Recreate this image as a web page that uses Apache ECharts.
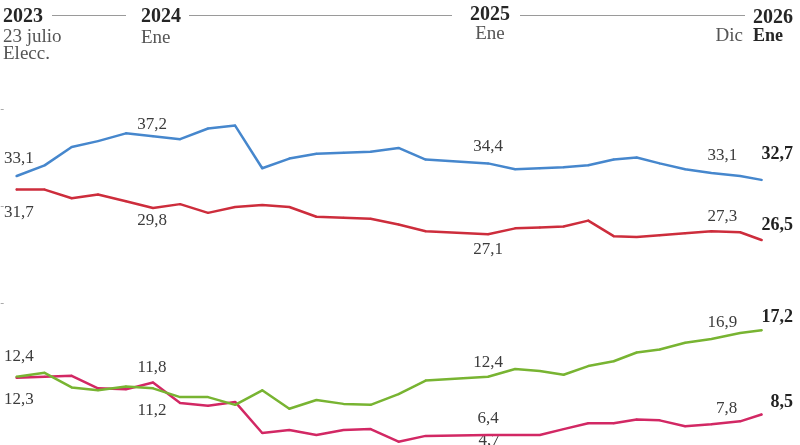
<!DOCTYPE html>
<html>
<head>
<meta charset="utf-8">
<script src="https://cdn.jsdelivr.net/npm/echarts@6/dist/echarts.min.js"></script>
<style>
html,body{margin:0;padding:0;background:#fff;}
#chart{width:800px;height:445px;}
</style>
</head>
<body>
<div id="chart"></div>
<script>
// Survey dates
const dates = ['2023-07-23','2023-08-26','2023-09-28','2023-10-30','2023-12-03','2024-01-05','2024-02-07','2024-03-12','2024-04-14','2024-05-17','2024-06-19','2024-07-22','2024-08-24','2024-09-26','2024-10-30','2024-12-02','2025-02-16','2025-03-21','2025-04-20','2025-05-19','2025-06-18','2025-07-19','2025-08-16','2025-09-13','2025-10-14','2025-11-15','2025-12-20','2026-01-15'];
const blue    = [33.1,34.2,36.1,36.7,37.5,37.2,36.9,38.0,38.3,33.9,34.9,35.4,35.5,35.6,36.0,34.8,34.4,33.8,33.9,34.0,34.2,34.8,35.0,34.4,33.8,33.4,33.1,32.7];
const red     = [31.7,31.7,30.8,31.2,30.5,29.8,30.2,29.3,29.9,30.1,29.9,28.9,28.8,28.7,28.1,27.4,27.1,27.7,27.8,27.9,28.5,26.9,26.8,27.0,27.2,27.4,27.3,26.5];
const green   = [12.4,12.8,11.3,11.0,11.4,11.2,10.3,10.3,9.5,11.0,9.1,10.0,9.6,9.5,10.6,12.0,12.4,13.2,13.0,12.6,13.5,14.0,14.9,15.2,15.9,16.3,16.9,17.2];
const magenta = [12.3,12.4,12.5,11.2,11.1,11.8,9.7,9.4,9.8,6.6,6.9,6.4,6.9,7.0,5.7,6.3,6.4,6.4,6.4,7.0,7.6,7.6,8.0,7.9,7.3,7.5,7.8,8.5];
const yTicks = [20,30,40];
const headerYears = ['2023','2024','2025','2026'];
const headerSub = ['23 julio','Ene','Ene','Dic','Ene'];
const offLabel = '4,7';

const FONT = "'Liberation Serif', 'Times New Roman', serif";
const fmt = v => v.toFixed(1).replace('.', ',');

// label placement per series: index -> [align, dx, dy, bold]
function build(values, specs) {
  return values.map((v, i) => {
    const item = { value: [dates[i], v] };
    const s = specs[i];
    if (s) {
      item.label = {
        show: true,
        position: 'inside',
        formatter: fmt(v),
        align: s[0],
        verticalAlign: 'middle',
        offset: [s[1], s[2]],
        fontFamily: FONT,
        fontSize: s[3] ? 18 : 17,
        fontWeight: s[3] ? 'bold' : 'normal',
        color: s[3] ? '#222' : '#3c3c3c'
      };
    }
    return item;
  });
}

const last = dates.length - 1;
const mk = (a, b, c, d, e) => { const o = {}; o[0] = a; o[5] = b; o[16] = c; o[last - 1] = d; o[last] = e; return o; };

const series = [
  { name: 'blue', color: '#4687CD', vals: blue,
    specs: mk(['left',-12.7,-17], ['center',-1,-12], ['center',0,-16.5], ['right',-3,-20], ['right',31.5,-25.5,true]) },
  { name: 'red', color: '#CD2D3C', vals: red,
    specs: mk(['left',-12.7,23], ['center',-1,12.5], ['center',0,15], ['right',-3,-16], ['right',31.5,-15,true]) },
  { name: 'magenta', color: '#D22864', vals: magenta,
    specs: mk(['left',-12.7,22], ['center',-1,-15], ['center',0,-16], ['right',-3,-13], ['right',31.5,-12,true]) },
  { name: 'green', color: '#78B432', vals: green,
    specs: mk(['left',-12.7,-20], ['center',-1,22], ['center',0,-14], ['right',-3,-11], ['right',31.5,-12.5,true]) }
].map(s => ({
  type: 'line',
  name: s.name,
  data: build(s.vals, s.specs),
  symbol: 'circle',
  symbolSize: 2,
  showSymbol: true,
  itemStyle: { color: s.color },
  lineStyle: { color: s.color, width: 2.5, cap: 'round', join: 'round' },
  emphasis: { disabled: true },
  z: 3
}));

const gray = '#555';
const dark = '#262626';
const txt = (text, x, y, align, size, bold, fill) => ({
  type: 'text', x: x, y: y, silent: true,
  style: { text: text, fill: fill, font: (bold ? 'bold ' : '') + size + 'px ' + FONT, align: align, verticalAlign: 'middle' }
});
const hline = (x1, x2, y) => ({
  type: 'line', silent: true,
  shape: { x1: x1, y1: y, x2: x2, y2: y },
  style: { stroke: '#9a9a9a', lineWidth: 1 }
});

const graphic = [
  txt(headerYears[0], 3, 17, 'left', 20, true, dark),
  hline(52, 126, 15.5),
  txt(headerYears[1], 141, 17, 'left', 20, true, dark),
  hline(189, 452, 15.5),
  txt(headerYears[2], 490, 14.5, 'center', 20, true, dark),
  hline(520, 745, 15.5),
  txt(headerYears[3], 753, 17.5, 'left', 20, true, dark),
  txt(headerSub[0], 3, 37.5, 'left', 19, false, gray),
  txt('Elecc.', 3, 54.5, 'left', 19, false, gray),
  txt(headerSub[1], 141, 38, 'left', 19, false, gray),
  txt(headerSub[2], 490, 34, 'center', 19, false, gray),
  txt(headerSub[3], 743, 36, 'right', 19, false, gray),
  txt(headerSub[4], 753, 36, 'left', 18, true, dark),
  txt(offLabel, 489, 441, 'center', 17, false, '#3c3c3c')
];

const chart = echarts.init(document.getElementById('chart'), null, { renderer: 'canvas' });
chart.setOption({
  animation: false,
  backgroundColor: '#fff',
  grid: { left: 16.7, width: 744.8, top: 109.1, height: 335.9, containLabel: false },
  xAxis: {
    type: 'time', min: dates[0], max: dates[last], show: false
  },
  yAxis: {
    type: 'value', min: 5.36, max: 40,
    offset: 13,
    axisLine: { show: false },
    axisLabel: { show: false },
    splitLine: { show: false },
    axisTick: { show: true, length: 3, customValues: yTicks, lineStyle: { color: '#aaa', width: 1 } }
  },
  series: series,
  graphic: graphic
});
</script>
</body>
</html>
